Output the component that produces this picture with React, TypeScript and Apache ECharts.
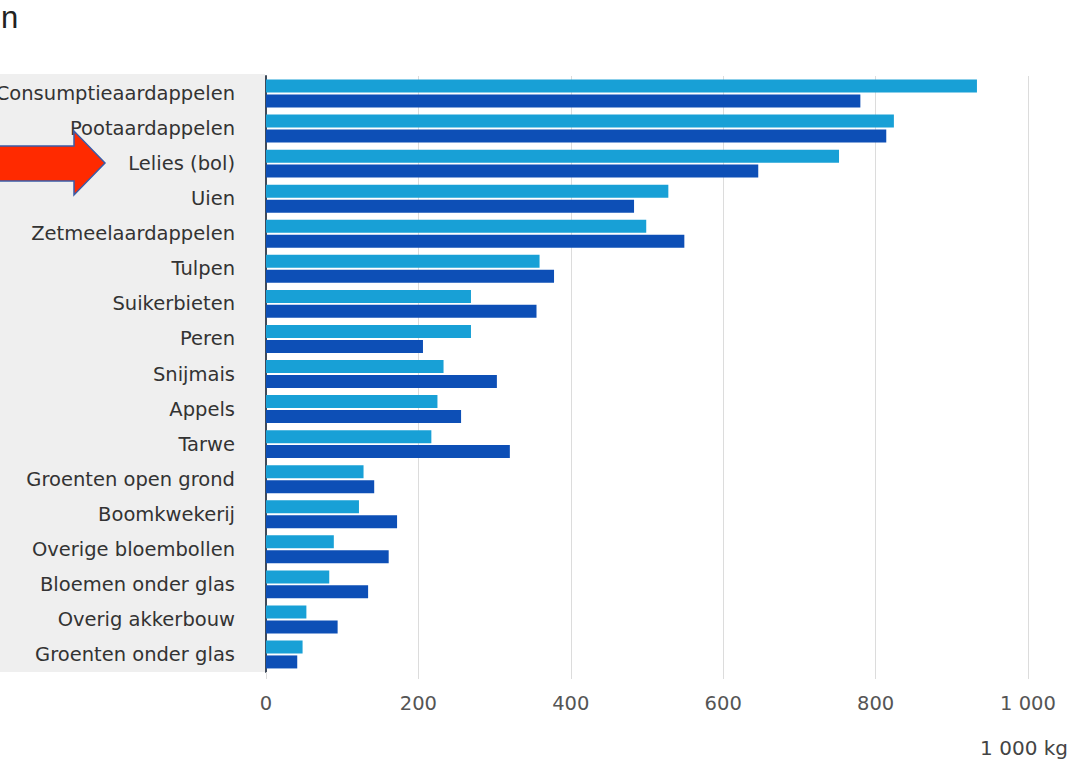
import React, { useEffect, useRef } from "react";
import * as echarts from "echarts";

// Crops, top to bottom
const categories = [
  "Consumptieaardappelen",
  "Pootaardappelen",
  "Lelies (bol)",
  "Uien",
  "Zetmeelaardappelen",
  "Tulpen",
  "Suikerbieten",
  "Peren",
  "Snijmais",
  "Appels",
  "Tarwe",
  "Groenten open grond",
  "Boomkwekerij",
  "Overige bloembollen",
  "Bloemen onder glas",
  "Overig akkerbouw",
  "Groenten onder glas",
];

// Amounts in 1 000 kg
const seriesLight = [933, 824, 752, 528, 499, 359, 269, 269, 233, 225, 217, 128, 122, 89, 83, 53, 48];
const seriesDark = [780, 814, 646, 483, 549, 378, 355, 206, 303, 256, 320, 142, 172, 161, 134, 94, 41];

const xTicks = { min: 0, max: 1000, interval: 200 };
const unitLabel = "1 000 kg";

const LABEL_FONT = "DejaVu Sans";

const fmtThousands = (v: number) => String(v).replace(/\B(?=(\d{3})+(?!\d))/g, " ");

export default function App() {
  const ref = useRef<HTMLDivElement>(null);

  useEffect(() => {
    if (!ref.current) return;
    const chart = echarts.init(ref.current, undefined, { renderer: "svg" });
    chart.setOption({
      animation: false,
      backgroundColor: "#ffffff",
      grid: {
        left: 266,
        right: 43,
        top: 76,
        bottom: 88,
        containLabel: false,
        outerBoundsMode: "none",
      },
      xAxis: {
        type: "value",
        min: xTicks.min,
        max: xTicks.max,
        interval: xTicks.interval,
        axisLine: { show: false },
        axisTick: { show: true, length: 7, lineStyle: { color: "#dcdcdc", width: 1 } },
        splitLine: { show: true, lineStyle: { color: "#dcdcdc", width: 1 } },
        axisLabel: {
          margin: 21,
          color: "#555555",
          fontFamily: LABEL_FONT,
          fontSize: 19.5,
          formatter: (v: number) => fmtThousands(v),
        },
      },
      yAxis: {
        type: "category",
        data: categories,
        inverse: true,
        axisLine: { show: true, lineStyle: { color: "#3e4a5a", width: 2 } },
        axisTick: { show: false },
        axisLabel: {
          margin: 31,
          color: "#333333",
          fontFamily: LABEL_FONT,
          fontSize: 19.5,
          padding: [4, 0, 0, 0],
        },
      },
      graphic: [
        {
          type: "rect",
          z: -10,
          shape: { x: 0, y: 74, width: 265, height: 598 },
          style: { fill: "#efefef" },
        },
        {
          type: "text",
          z: 10,
          style: {
            text: "n",
            x: 1,
            y: 17,
            fontFamily: "Liberation Sans",
            fontSize: 31,
            fill: "#222222",
            textAlign: "left",
            textVerticalAlign: "middle",
          },
        },
        {
          type: "text",
          z: 10,
          style: {
            text: unitLabel,
            x: 1068,
            y: 748,
            fontFamily: LABEL_FONT,
            fontSize: 20,
            fill: "#444444",
            textAlign: "right",
            textVerticalAlign: "middle",
          },
        },
        {
          type: "polygon",
          z: 20,
          shape: {
            points: [
              [-4, 146],
              [74, 146],
              [74, 131],
              [105, 163],
              [74, 195],
              [74, 181],
              [-4, 181],
            ],
          },
          style: { fill: "#ff2a00", stroke: "#3a5ca8", lineWidth: 1.5 },
        },
      ],
      series: [
        {
          name: "Reeks A",
          type: "bar",
          data: seriesLight,
          barWidth: 13,
          barGap: "15%",
          itemStyle: { color: "#18a0d6" },
        },
        {
          name: "Reeks B",
          type: "bar",
          data: seriesDark,
          barWidth: 13,
          barGap: "15%",
          itemStyle: { color: "#0d4fb6" },
        },
      ],
    });
    return () => chart.dispose();
  }, []);

  return (
    <div
      ref={ref}
      style={{ position: "absolute", left: 0, top: 0, width: 1071, height: 760 }}
    />
  );
}
